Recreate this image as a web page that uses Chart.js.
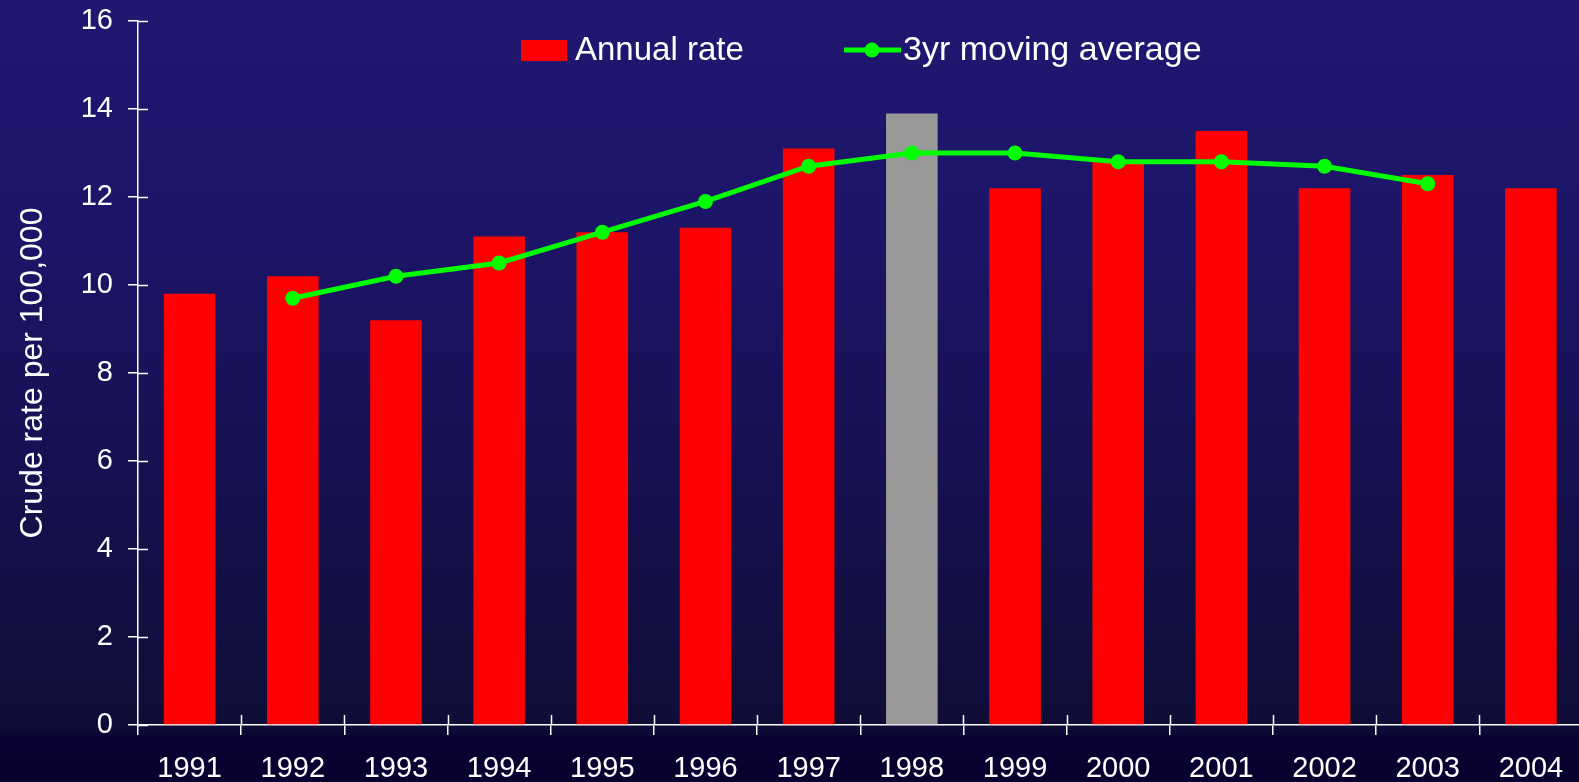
<!DOCTYPE html>
<html>
<head>
<meta charset="utf-8">
<script src="https://cdn.jsdelivr.net/npm/chart.js@4"></script>
<style>
  html, body { margin: 0; padding: 0; overflow: hidden; width: 1579px; height: 782px; }
  body {
    background: linear-gradient(180deg, #201871 0px, #1c1466 250px, #0f0d37 728px, #0a0232 737px, #0a0030 782px);
  }
  #wrap { position: absolute; left: 0; top: 0; width: 1590px; height: 782px; }
</style>
</head>
<body>
<div id="wrap"><canvas id="rateChart" width="1590" height="782"></canvas></div>
<script>
const years = ['1991', '1992', '1993', '1994', '1995', '1996', '1997', '1998', '1999', '2000', '2001', '2002', '2003', '2004'];
const annualRate = [9.8, 10.2, 9.2, 11.1, 11.2, 11.3, 13.1, 13.9, 12.2, 12.8, 13.5, 12.2, 12.5, 12.2];
const movingAvg = [null, 9.7, 10.2, 10.5, 11.2, 11.9, 12.7, 13.0, 13.0, 12.8, 12.8, 12.7, 12.3, null];
const yTicks = [0, 2, 4, 6, 8, 10, 12, 14, 16];
const highlightYear = '1998';

const barColors = years.map(y => y === highlightYear ? '#999999' : '#ff0000');
const FONT = 'Liberation Sans, Arial, Helvetica, sans-serif';

// ticks in the original cross the axis, chart.js only draws the outer half
const crossTicks = {
    id: 'crossTicks',
    afterDraw(chart) {
        const ctx = chart.ctx;
        const x = chart.scales.x, y = chart.scales.y;
        ctx.save();
        ctx.strokeStyle = '#ffffff';
        ctx.lineWidth = 1.5;
        ctx.beginPath();
        y.ticks.forEach((t, i) => {
            const py = Math.round(y.getPixelForTick(i)) + 0.5;
            ctx.moveTo(y.right, py);
            ctx.lineTo(y.right + 10, py);
        });
        for (let i = 1; i <= years.length; i++) {
            const px = Math.round(x.getPixelForValue(i - 0.5)) + 0.5;
            ctx.moveTo(px, x.top);
            ctx.lineTo(px, x.top - 10);
        }
        ctx.stroke();
        ctx.restore();
    }
};

// legend sits inside the plot area
const innerLegend = {
    id: 'innerLegend',
    afterDraw(chart) {
        const ctx = chart.ctx;
        const bars = chart.data.datasets.find(d => d.type !== 'line');
        const line = chart.data.datasets.find(d => d.type === 'line');
        ctx.save();
        ctx.font = '33px ' + FONT;
        ctx.textBaseline = 'middle';
        ctx.fillStyle = '#ff0000';
        ctx.fillRect(521, 40, 46, 21);
        ctx.fillStyle = '#ffffff';
        ctx.fillText(bars.label, 575, 51);
        ctx.strokeStyle = '#00ff00';
        ctx.lineWidth = 5;
        ctx.beginPath();
        ctx.moveTo(844, 50);
        ctx.lineTo(901, 50);
        ctx.stroke();
        ctx.fillStyle = '#00ff00';
        ctx.beginPath();
        ctx.arc(872, 50, 7.5, 0, Math.PI * 2);
        ctx.fill();
        ctx.fillStyle = '#ffffff';
        ctx.font = '34px ' + FONT;
        ctx.fillText(line.label, 903, 51);
        ctx.restore();
    }
};

const ctx = document.getElementById('rateChart').getContext('2d');
const rateChart = new Chart(ctx, {
    type: 'bar',
    data: {
        labels: years,
        datasets: [{
            type: 'line',
            label: '3yr moving average',
            data: movingAvg,
            borderColor: '#00ff00',
            backgroundColor: '#00ff00',
            borderWidth: 5,
            pointRadius: 7.5,
            pointBorderWidth: 0,
            pointBackgroundColor: '#00ff00',
            tension: 0,
            order: 1
        }, {
            label: 'Annual rate',
            data: annualRate,
            backgroundColor: barColors,
            barPercentage: 0.5,
            categoryPercentage: 1.0,
            order: 2
        }]
    },
    options: {
        responsive: false,
        animation: false,
        layout: { padding: { top: 21, right: 3, left: 0, bottom: 0 } },
        plugins: {
            legend: { display: false },
            tooltip: { enabled: false }
        },
        scales: {
            x: {
                offset: true,
                grid: { display: true, drawOnChartArea: false, offset: true, tickLength: 10, color: '#ffffff', lineWidth: 1.5 },
                border: { display: true, color: '#ffffff', width: 1.5 },
                ticks: { color: '#ffffff', font: { family: FONT, size: 29 }, padding: 17, maxRotation: 0, autoSkip: false },
                afterFit(scale) { scale.height = 57; }
            },
            y: {
                min: 0,
                max: 16,
                afterBuildTicks(scale) { scale.ticks = yTicks.map(v => ({ value: v })); },
                grid: { display: true, drawOnChartArea: false, tickLength: 10, color: '#ffffff', lineWidth: 1.5 },
                border: { display: true, color: '#ffffff', width: 1.5 },
                ticks: { color: '#ffffff', font: { family: FONT, size: 29 }, padding: 15 },
                title: {
                    display: true,
                    text: 'Crude rate per 100,000',
                    color: '#ffffff',
                    font: { family: FONT, size: 32 },
                    padding: { top: 14, bottom: 0 }
                },
                afterFit(scale) {
                    scale.width = 138;
                    scale.paddingTop = 0;
                    scale.paddingBottom = 0;
                }
            }
        }
    },
    plugins: [crossTicks, innerLegend]
});
</script>
</body>
</html>
